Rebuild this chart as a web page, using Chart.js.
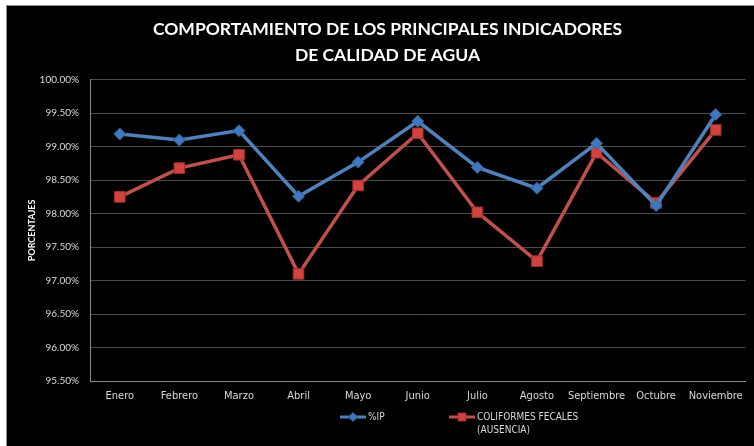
<!DOCTYPE html>
<html>
<head>
<meta charset="utf-8">
<script src="https://cdn.jsdelivr.net/npm/chart.js@4.4.1/dist/chart.umd.min.js"></script>
<style>
  html, body { margin: 0; padding: 0; background: #ffffff; overflow: hidden; width: 754px; height: 446px; }
  #box { position: absolute; left: 6px; top: 5px; width: 748px; height: 441px; border: 1px solid #8c8c8c; background: #000; }
  #c { display: block; }
</style>
</head>
<body>
<div id="box"><canvas id="c" width="747" height="440"></canvas></div>
<script>
const months = ['Enero','Febrero','Marzo','Abril','Mayo','Junio','Julio','Agosto','Septiembre','Octubre','Noviembre'];
const ipValues = [99.19, 99.10, 99.24, 98.26, 98.77, 99.38, 98.69, 98.38, 99.05, 98.12, 99.48];
const coliformValues = [98.25, 98.68, 98.88, 97.10, 98.42, 99.20, 98.02, 97.29, 98.91, 98.16, 99.25];
const seriesNames = ['%IP', ['COLIFORMES FECALES', '(AUSENCIA)']];
const titleLines = ['COMPORTAMIENTO DE LOS PRINCIPALES INDICADORES', 'DE CALIDAD DE AGUA'];
const yAxisTitle = 'PORCENTAJES';
const yMin = 95.5, yMax = 100, yStep = 0.5;

const BLUE = '#4F81BD', RED = '#C0504D';
const narrow = '"Liberation Sans Narrow", "DejaVu Sans Condensed", Lato, sans-serif';

const legendPlugin = {
  id: 'lineLegend',
  afterDraw(chart) {
    const ctx = chart.ctx;
    const items = [
      { x: 333, y: 411 },
      { x: 442, y: 411 }
    ];
    chart.data.datasets.forEach((ds, i) => {
      const p = items[i];
      ctx.save();
      ctx.strokeStyle = ds.borderColor;
      ctx.lineWidth = 3;
      ctx.beginPath();
      ctx.moveTo(p.x, p.y);
      ctx.lineTo(p.x + 26, p.y);
      ctx.stroke();
      ctx.fillStyle = ds.pointBackgroundColor;
      ctx.strokeStyle = ds.pointBorderColor;
      ctx.lineWidth = 1;
      Chart.helpers.drawPoint(ctx, { pointStyle: ds.pointStyle, radius: ds.pointRadius * 0.75, rotation: 0, borderWidth: 1 }, p.x + 13, p.y);
      ctx.fillStyle = '#d9d9d9';
      ctx.font = '10px ' + narrow;
      ctx.textBaseline = 'middle';
      ctx.textAlign = 'left';
      const lines = Array.isArray(ds.label) ? ds.label : [ds.label];
      lines.forEach((t, k) => ctx.fillText(t, p.x + 28, p.y + k * 13));
      ctx.restore();
    });
  }
};

new Chart(document.getElementById('c'), {
  type: 'line',
  data: {
    labels: months,
    datasets: [
      {
        label: seriesNames[0],
        data: ipValues,
        borderColor: BLUE,
        backgroundColor: BLUE,
        borderWidth: 3.5,
        pointStyle: 'rectRot',
        pointRadius: 6,
        pointBackgroundColor: '#3f78bd',
        pointBorderColor: '#2f5f99',
        pointBorderWidth: 1,
        tension: 0
      },
      {
        label: seriesNames[1],
        data: coliformValues,
        borderColor: RED,
        backgroundColor: RED,
        borderWidth: 3.5,
        pointStyle: 'rect',
        pointRadius: 7.5,
        pointBackgroundColor: '#d2433f',
        pointBorderColor: '#9e2f2c',
        pointBorderWidth: 1,
        tension: 0
      }
    ]
  },
  options: {
    responsive: false,
    animation: false,
    layout: { padding: { left: 20, right: 6, top: 0, bottom: 40 } },
    plugins: {
      legend: { display: false },
      tooltip: { enabled: false },
      title: {
        display: true,
        text: titleLines,
        color: '#ffffff',
        font: { family: 'Lato, "Open Sans", sans-serif', size: 17.5, weight: 'bold', lineHeight: 1.45 },
        padding: { top: 11, bottom: 12 }
      }
    },
    scales: {
      x: {
        offset: true,
        grid: { display: false, drawTicks: false, offset: true },
        border: { display: true, color: '#8c8c8c', width: 1 },
        ticks: { color: '#d9d9d9', font: { family: narrow, size: 11 }, padding: 9, maxRotation: 0, autoSkip: false },
        afterFit(s) { s.height = 25; }
      },
      y: {
        min: yMin,
        max: yMax,
        grid: { color: '#4d4d4d', lineWidth: 1, drawTicks: false },
        border: { display: true, color: '#8c8c8c', width: 1 },
        ticks: {
          stepSize: yStep,
          color: '#d9d9d9',
          font: { family: 'Lato, sans-serif', size: 10 },
          padding: 11,
          callback: v => v.toFixed(2) + '%'
        },
        title: {
          display: true,
          text: yAxisTitle,
          color: '#ffffff',
          font: { family: 'Lato, sans-serif', size: 9, weight: 'bold' },
          padding: { top: 0, bottom: 0 }
        },
        afterFit(s) { s.width = 63; }
      }
    }
  },
  plugins: [legendPlugin]
});
</script>
</body>
</html>
